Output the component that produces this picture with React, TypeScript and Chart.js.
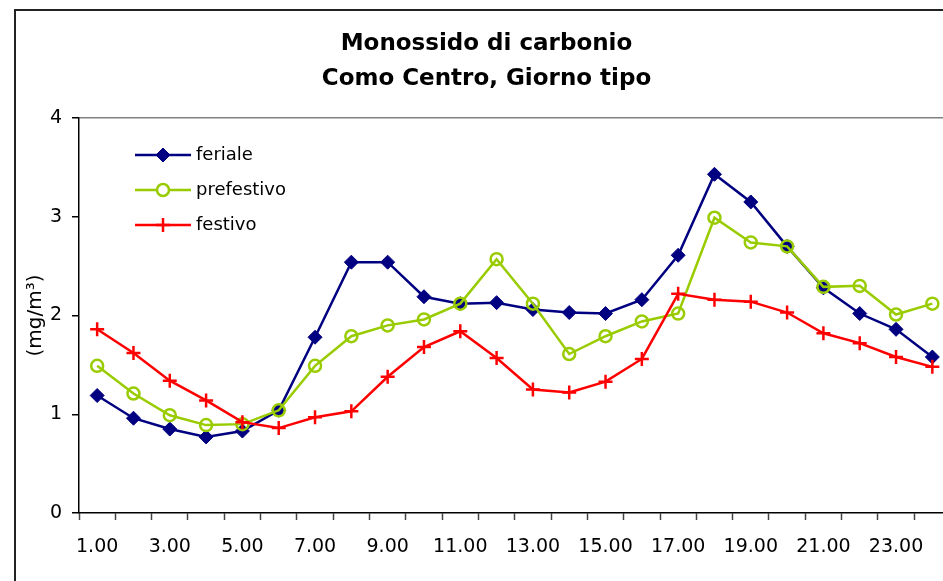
import React, { useEffect, useRef } from "react";
import { Chart, registerables } from "chart.js";

Chart.register(...registerables);

const categories = [
  "1.00", "2.00", "3.00", "4.00", "5.00", "6.00", "7.00", "8.00", "9.00", "10.00", "11.00", "12.00",
  "13.00", "14.00", "15.00", "16.00", "17.00", "18.00", "19.00", "20.00", "21.00", "22.00", "23.00", "24.00",
];

const feriale = [1.19, 0.96, 0.85, 0.77, 0.83, 1.04, 1.78, 2.54, 2.54, 2.19, 2.12, 2.13, 2.06, 2.03, 2.02, 2.16, 2.61, 3.43, 3.15, 2.70, 2.28, 2.02, 1.86, 1.58];
const prefestivo = [1.49, 1.21, 0.99, 0.89, 0.90, 1.04, 1.49, 1.79, 1.90, 1.96, 2.12, 2.57, 2.12, 1.61, 1.79, 1.94, 2.02, 2.99, 2.74, 2.70, 2.29, 2.30, 2.01, 2.12];
const festivo = [1.86, 1.62, 1.34, 1.14, 0.92, 0.86, 0.97, 1.03, 1.38, 1.68, 1.84, 1.57, 1.25, 1.22, 1.33, 1.56, 2.22, 2.16, 2.14, 2.03, 1.82, 1.72, 1.58, 1.48];

const seriesNames = ["feriale", "prefestivo", "festivo"];
const titleLines = ["Monossido di carbonio", "Como Centro, Giorno tipo"];
const yTitle = "(mg/m³)";

const NAVY = "#000080";
const GREEN = "#99CC00";
const RED = "#FF0000";
const FONT = "'DejaVu Sans', Verdana, sans-serif";

const W = 944;
const H = 600;

const legendPlugin = {
  id: "insideLegend",
  afterDraw(chart: any) {
    const { ctx, chartArea } = chart;
    const x0 = chartArea.left + 56;
    const x1 = chartArea.left + 112;
    const xm = (x0 + x1) / 2;
    const tx = chartArea.left + 117;
    const rows = [37, 72, 107];
    ctx.save();
    chart.data.datasets.forEach((ds: any, i: number) => {
      const y = chartArea.top + rows[i];
      ctx.strokeStyle = ds.borderColor;
      ctx.lineWidth = ds.borderWidth;
      ctx.beginPath();
      ctx.moveTo(x0, y);
      ctx.lineTo(x1, y);
      ctx.stroke();
      const r = ds.pointRadius;
      ctx.lineWidth = ds.pointBorderWidth;
      ctx.strokeStyle = ds.pointBorderColor;
      ctx.fillStyle = ds.pointBackgroundColor;
      ctx.beginPath();
      if (ds.pointStyle === "rectRot") {
        ctx.moveTo(xm, y - r);
        ctx.lineTo(xm + r, y);
        ctx.lineTo(xm, y + r);
        ctx.lineTo(xm - r, y);
        ctx.closePath();
        ctx.fill();
        ctx.stroke();
      } else if (ds.pointStyle === "circle") {
        ctx.fillStyle = "#fff";
        ctx.arc(xm, y, r, 0, Math.PI * 2);
        ctx.fill();
        ctx.stroke();
      } else {
        ctx.moveTo(xm - r, y);
        ctx.lineTo(xm + r, y);
        ctx.moveTo(xm, y - r);
        ctx.lineTo(xm, y + r);
        ctx.stroke();
      }
      ctx.fillStyle = "#000";
      ctx.font = `18px ${FONT}`;
      ctx.textBaseline = "middle";
      ctx.textAlign = "left";
      ctx.fillText(ds.label, tx, y);
    });
    ctx.restore();
  },
};

export default function App() {
  const ref = useRef<HTMLCanvasElement | null>(null);

  useEffect(() => {
    if (!ref.current) return;
    const chart = new Chart(ref.current, {
      type: "line",
      data: {
        labels: categories,
        datasets: [
          {
            label: seriesNames[0],
            data: feriale,
            borderColor: NAVY,
            backgroundColor: NAVY,
            borderWidth: 2.5,
            pointStyle: "rectRot",
            pointRadius: 7,
            pointBackgroundColor: NAVY,
            pointBorderColor: NAVY,
            pointBorderWidth: 1,
            tension: 0,
            order: 3,
          },
          {
            label: seriesNames[1],
            data: prefestivo,
            borderColor: GREEN,
            backgroundColor: GREEN,
            borderWidth: 2.5,
            pointStyle: "circle",
            pointRadius: 6,
            pointBackgroundColor: "rgba(0,0,0,0)",
            pointBorderColor: GREEN,
            pointBorderWidth: 2.5,
            tension: 0,
            order: 2,
          },
          {
            label: seriesNames[2],
            data: festivo,
            borderColor: RED,
            backgroundColor: RED,
            borderWidth: 2.5,
            pointStyle: "cross",
            pointRadius: 7,
            pointBackgroundColor: RED,
            pointBorderColor: RED,
            pointBorderWidth: 2.5,
            tension: 0,
            order: 1,
          },
        ],
      },
      options: {
        animation: false,
        responsive: false,
        maintainAspectRatio: false,
        layout: { padding: { left: 0, right: 3, top: 0, bottom: 0 } },
        plugins: {
          legend: { display: false },
          tooltip: { enabled: false },
          title: {
            display: true,
            text: titleLines,
            color: "#000",
            font: { family: FONT, size: 23, weight: "bold", lineHeight: 35 / 23 },
            padding: { top: 16, bottom: 21 },
          },
        },
        scales: {
          x: {
            type: "category",
            offset: true,
            afterFit: (scale: any) => {
              scale.height = H - 502;
            },
            grid: {
              display: true,
              offset: true,
              drawOnChartArea: false,
              drawTicks: true,
              tickLength: 7,
              tickColor: "#444",
              tickWidth: 1.5,
            },
            border: { display: true, color: "#000", width: 1.5 },
            ticks: {
              autoSkip: false,
              maxRotation: 0,
              minRotation: 0,
              padding: 16,
              color: "#000",
              font: { family: FONT, size: 19 },
              callback: (_v: any, idx: number) => (idx % 2 === 0 ? categories[idx] : ""),
            },
          },
          y: {
            min: 0,
            max: 4,
            afterFit: (scale: any) => {
              scale.width = 63;
            },
            grid: {
              display: true,
              drawOnChartArea: true,
              drawTicks: true,
              tickLength: 7,
              tickColor: "#000",
              tickWidth: 1.5,
              lineWidth: 1.5,
              color: (c: any) => (c.tick && c.tick.value === 4 ? "#808080" : "rgba(0,0,0,0)"),
            },
            border: { display: true, color: "#000", width: 1.5 },
            ticks: {
              stepSize: 1,
              padding: 10,
              color: "#000",
              font: { family: FONT, size: 19 },
            },
            title: {
              display: true,
              text: yTitle,
              color: "#000",
              font: { family: FONT, size: 20 },
              padding: { top: 8, bottom: 0 },
            },
          },
        },
      },
      plugins: [legendPlugin],
    });
    return () => chart.destroy();
  }, []);

  return (
    <div style={{ position: "fixed", left: 0, top: 0, width: 943, height: 581, overflow: "hidden", background: "#fff" }}>
      <div
        style={{
          position: "absolute",
          left: 14,
          top: 9,
          width: W,
          height: H,
          border: "2px solid #222",
          background: "#fff",
        }}
      >
        <canvas ref={ref} width={W} height={H} style={{ display: "block", width: W, height: H }} />
      </div>
    </div>
  );
}
